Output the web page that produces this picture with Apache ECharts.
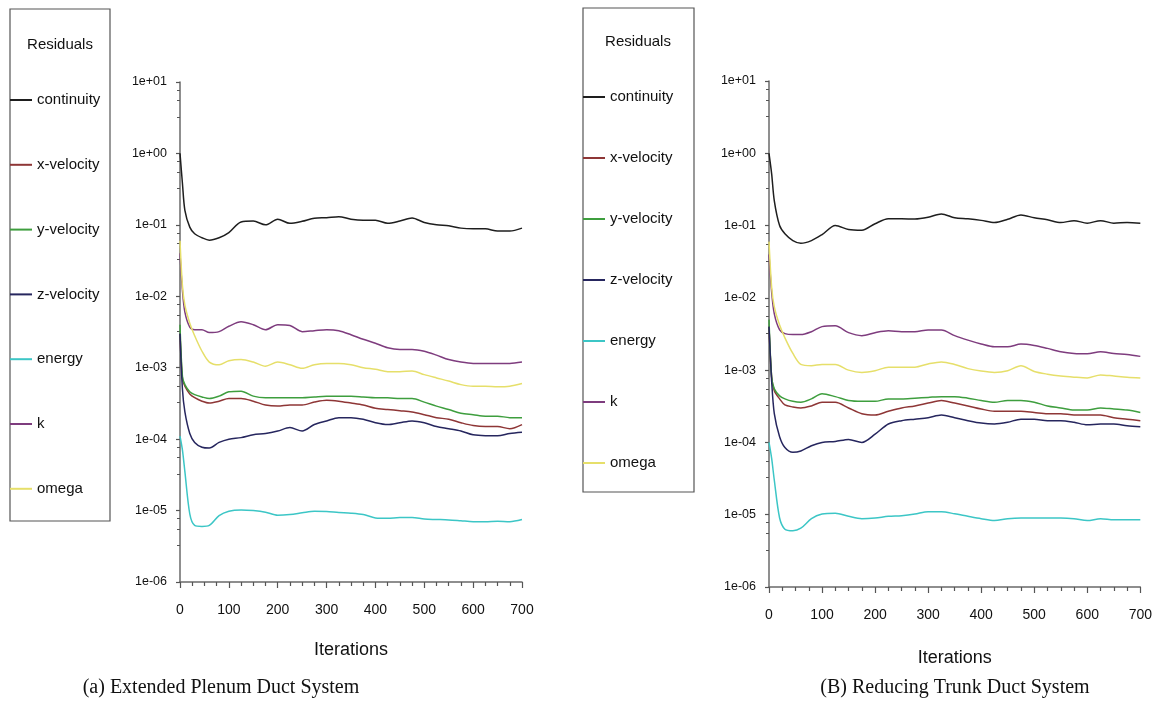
<!DOCTYPE html>
<html>
<head>
<meta charset="utf-8">
<script src="https://cdn.jsdelivr.net/npm/echarts/dist/echarts.min.js"></script>
<style>
  html, body { margin: 0; padding: 0; background: #fff; }
  #main { width: 1155px; height: 713px; }
</style>
</head>
<body>
<div id="main"></div>
<script>
// residual names, colours and iteration samples
var names = ["continuity", "x-velocity", "y-velocity", "z-velocity", "energy", "k", "omega"];
var colors = ["#1e1e1e", "#8e3636", "#3e9e3e", "#26265e", "#3cc6c6", "#7e3c7e", "#e6df6a"];
var iters = [0, 5, 10, 20, 30, 45, 60, 80, 100, 125, 150, 175, 200, 225, 250, 275, 300, 325, 350, 375, 400, 425, 450, 475, 500, 525, 550, 575, 600, 625, 650, 675, 700];
var yTicks = [1e-6, 1e-5, 1e-4, 1e-3, 1e-2, 1e-1, 1, 10];

// (a) extended plenum
var plenumContinuity = [1.0, 0.38, 0.16, 0.093, 0.075, 0.066, 0.061, 0.066, 0.078, 0.11, 0.113, 0.10, 0.12, 0.105, 0.112, 0.124, 0.126, 0.13, 0.12, 0.116, 0.116, 0.105, 0.113, 0.125, 0.108, 0.1, 0.097, 0.09, 0.088, 0.088, 0.082, 0.082, 0.09];
var plenumXVel = [0.003, 0.0007, 0.00055, 0.00043, 0.00038, 0.00034, 0.00032, 0.00034, 0.00037, 0.00037, 0.00034, 0.0003, 0.00029, 0.0003, 0.0003, 0.00033, 0.00035, 0.00034, 0.00032, 0.0003, 0.00027, 0.00026, 0.00025, 0.00024, 0.00022, 0.0002, 0.00019, 0.00017, 0.000155, 0.00015, 0.00015, 0.00014, 0.00016];
var plenumYVel = [0.004, 0.00075, 0.00058, 0.00046, 0.00042, 0.00039, 0.00037, 0.0004, 0.00046, 0.00047, 0.0004, 0.00038, 0.00038, 0.00038, 0.00038, 0.00039, 0.0004, 0.0004, 0.0004, 0.00039, 0.00038, 0.00038, 0.00037, 0.00037, 0.00033, 0.00029, 0.00026, 0.00023, 0.00022, 0.00021, 0.00021, 0.0002, 0.0002];
var plenumZVel = [0.003, 0.0005, 0.00024, 0.00012, 0.00009, 0.000077, 0.000075, 0.00009, 0.0001, 0.000105, 0.000115, 0.00012, 0.00013, 0.000145, 0.00013, 0.00016, 0.00018, 0.0002, 0.0002, 0.00019, 0.00017, 0.00016, 0.00017, 0.00018, 0.00017, 0.00015, 0.00014, 0.00013, 0.000115, 0.000112, 0.000112, 0.00012, 0.000125];
var plenumEnergy = [1.1e-4, 7e-5, 3.5e-5, 9e-6, 6.2e-6, 6e-6, 6.2e-6, 8.5e-6, 9.8e-6, 1.02e-5, 1e-5, 9.5e-6, 8.6e-6, 8.8e-6, 9.3e-6, 9.8e-6, 9.7e-6, 9.4e-6, 9.2e-6, 8.8e-6, 7.9e-6, 7.8e-6, 8e-6, 8e-6, 7.6e-6, 7.5e-6, 7.4e-6, 7.2e-6, 7e-6, 7e-6, 7.1e-6, 7e-6, 7.5e-6];
var plenumK = [0.04, 0.012, 0.006, 0.0037, 0.0034, 0.0034, 0.0031, 0.0032, 0.0038, 0.0044, 0.004, 0.0034, 0.004, 0.0039, 0.0032, 0.0033, 0.0034, 0.0033, 0.0029, 0.0025, 0.0022, 0.0019, 0.0018, 0.0018, 0.0017, 0.0015, 0.0013, 0.0012, 0.00115, 0.00115, 0.00115, 0.00115, 0.0012];
var plenumOmega = [0.06, 0.014, 0.0075, 0.0042, 0.0028, 0.0017, 0.0012, 0.0011, 0.00125, 0.0013, 0.0012, 0.00105, 0.0012, 0.0011, 0.00098, 0.0011, 0.00115, 0.00115, 0.0011, 0.001, 0.00095, 0.00088, 0.00088, 0.0009, 0.0008, 0.00072, 0.00065, 0.00058, 0.00055, 0.00055, 0.00054, 0.00055, 0.0006];

// (B) reducing trunk
var trunkContinuity = [1.0, 0.52, 0.22, 0.1, 0.077, 0.062, 0.057, 0.062, 0.075, 0.1, 0.088, 0.086, 0.106, 0.124, 0.124, 0.123, 0.13, 0.145, 0.128, 0.124, 0.118, 0.11, 0.122, 0.14, 0.128, 0.12, 0.11, 0.117, 0.108, 0.117, 0.108, 0.11, 0.108];
var trunkXVel = [0.004, 0.0008, 0.00052, 0.0004, 0.00033, 0.00031, 0.0003, 0.00032, 0.00036, 0.00036, 0.0003, 0.00025, 0.00024, 0.00027, 0.0003, 0.00032, 0.00035, 0.00038, 0.00035, 0.00032, 0.00029, 0.00027, 0.00027, 0.00027, 0.00026, 0.00025, 0.00025, 0.00024, 0.00024, 0.00024, 0.00022, 0.00021, 0.0002];
var trunkYVel = [0.005, 0.0008, 0.00055, 0.00044, 0.0004, 0.00037, 0.00036, 0.0004, 0.00047, 0.00043, 0.00038, 0.00037, 0.00037, 0.0004, 0.0004, 0.00041, 0.00042, 0.00043, 0.00043, 0.00041, 0.00038, 0.00036, 0.00038, 0.00038, 0.00036, 0.00032, 0.0003, 0.00028, 0.00028, 0.0003, 0.00029, 0.00028, 0.00026];
var trunkZVel = [0.004, 0.0007, 0.00025, 0.00012, 0.000085, 0.000073, 0.000076, 0.00009, 0.0001, 0.000103, 0.00011, 0.0001, 0.00013, 0.00018, 0.0002, 0.00021, 0.00022, 0.00024, 0.00022, 0.0002, 0.000185, 0.00018, 0.00019, 0.00021, 0.00021, 0.0002, 0.0002, 0.00019, 0.000175, 0.00018, 0.00018, 0.00017, 0.000165];
var trunkEnergy = [1e-4, 6e-5, 3e-5, 9e-6, 6.3e-6, 6e-6, 6.5e-6, 8.8e-6, 1.02e-5, 1.05e-5, 9.5e-6, 8.8e-6, 9e-6, 9.5e-6, 9.7e-6, 1.02e-5, 1.1e-5, 1.1e-5, 1.03e-5, 9.5e-6, 8.8e-6, 8.3e-6, 8.8e-6, 9e-6, 9e-6, 9e-6, 9e-6, 8.8e-6, 8.3e-6, 8.8e-6, 8.5e-6, 8.5e-6, 8.5e-6];
var trunkK = [0.04, 0.012, 0.006, 0.0036, 0.0032, 0.0031, 0.0031, 0.0034, 0.004, 0.0041, 0.0033, 0.003, 0.0033, 0.0035, 0.0034, 0.0034, 0.0036, 0.0036, 0.003, 0.0026, 0.0023, 0.0021, 0.0021, 0.0023, 0.0022, 0.002, 0.0018, 0.0017, 0.00168, 0.0018, 0.0017, 0.00165, 0.00155];
var trunkOmega = [0.06, 0.014, 0.0075, 0.0042, 0.0028, 0.0017, 0.0012, 0.00115, 0.0012, 0.0012, 0.001, 0.00093, 0.00098, 0.0011, 0.0011, 0.0011, 0.00122, 0.0013, 0.0012, 0.00105, 0.00097, 0.00093, 0.00098, 0.00115, 0.00096, 0.00088, 0.00083, 0.0008, 0.00078, 0.00086, 0.00083, 0.0008, 0.00078];

var plenumSets = [plenumContinuity, plenumXVel, plenumYVel, plenumZVel, plenumEnergy, plenumK, plenumOmega];
var trunkSets = [trunkContinuity, trunkXVel, trunkYVel, trunkZVel, trunkEnergy, trunkK, trunkOmega];

var sans = "'Liberation Sans', Arial, sans-serif";

function expLabel(v) {
  var e = Math.round(Math.log10(v));
  var s = String(Math.abs(e));
  if (s.length < 2) s = "0" + s;
  return "1e" + (e < 0 ? "-" : "+") + s;
}

function makeX(idx) {
  return {
    gridIndex: idx, type: "value", min: 0, max: 700, interval: 100,
    name: "Iterations", nameLocation: "middle", nameGap: idx === 0 ? 59 : 62,
    nameTextStyle: { fontFamily: sans, fontSize: 18, color: "#111" },
    axisLine: { lineStyle: { color: "#6a6a6a", width: 1.5 } },
    axisTick: { length: 6, lineStyle: { color: "#555", width: 1.2 } },
    minorTick: { show: true, splitNumber: 4, length: 4, lineStyle: { color: "#555", width: 1.2 } },
    splitLine: { show: false },
    axisLabel: { margin: 21, fontFamily: sans, fontSize: 14, color: "#111" }
  };
}

function makeY(idx) {
  return {
    gridIndex: idx, type: "log", logBase: 10, min: yTicks[0], max: yTicks[yTicks.length - 1],
    axisLine: { show: true, lineStyle: { color: "#6a6a6a", width: 1.5 } },
    axisTick: { show: true, length: 4, lineStyle: { color: "#555", width: 1.2 } },
    minorTick: { show: true, splitNumber: 4, length: 3, lineStyle: { color: "#555", width: 1 } },
    splitLine: { show: false },
    axisLabel: { margin: 13, fontFamily: sans, fontSize: 12.5, color: "#111", formatter: expLabel }
  };
}

function makeSeries(sets, idx) {
  return sets.map(function (vals, i) {
    return {
      name: names[i], type: "line", xAxisIndex: idx, yAxisIndex: idx,
      showSymbol: false, smooth: 0.3, color: colors[i],
      lineStyle: { width: 1.5, color: colors[i] },
      data: iters.map(function (it, j) { return [it, vals[j]]; })
    };
  });
}

function makeLegend(left, top, gap) {
  return {
    orient: "vertical", left: left, top: top, padding: 0, itemGap: gap,
    itemWidth: 22, itemHeight: 2, icon: "rect", selectedMode: false,
    data: names,
    textStyle: { fontFamily: sans, fontSize: 15, color: "#111", lineHeight: 18 }
  };
}

var myChart = echarts.init(document.getElementById("main"));

var option = {
  animation: false,
  backgroundColor: "#fff",
  grid: [
    { left: 180, top: 82, width: 342, height: 500 },
    { left: 769, top: 81, width: 374, height: 506 }
  ],
  xAxis: [makeX(0), makeX(1)],
  yAxis: [makeY(0), makeY(1)],
  legend: [makeLegend(10, 91, 46.8), makeLegend(583, 88, 43)],
  graphic: [
    { type: "rect", shape: { x: 10, y: 9, width: 100, height: 512 }, style: { fill: "none", stroke: "#555", lineWidth: 1.2 } },
    { type: "rect", shape: { x: 583, y: 8, width: 111, height: 484 }, style: { fill: "none", stroke: "#555", lineWidth: 1.2 } },
    { type: "text", x: 60, y: 45, style: { text: "Residuals", font: "15px " + sans, fill: "#111", textAlign: "center", textVerticalAlign: "middle" } },
    { type: "text", x: 638, y: 42, style: { text: "Residuals", font: "15px " + sans, fill: "#111", textAlign: "center", textVerticalAlign: "middle" } },
    { type: "text", x: 221, y: 688, style: { text: "(a) Extended Plenum Duct System", font: "20px 'Liberation Serif', serif", fill: "#111", textAlign: "center", textVerticalAlign: "middle" } },
    { type: "text", x: 955, y: 688, style: { text: "(B) Reducing Trunk Duct System", font: "20px 'Liberation Serif', serif", fill: "#111", textAlign: "center", textVerticalAlign: "middle" } }
  ],
  series: makeSeries(plenumSets, 0).concat(makeSeries(trunkSets, 1))
};

myChart.setOption(option);
</script>
</body>
</html>
